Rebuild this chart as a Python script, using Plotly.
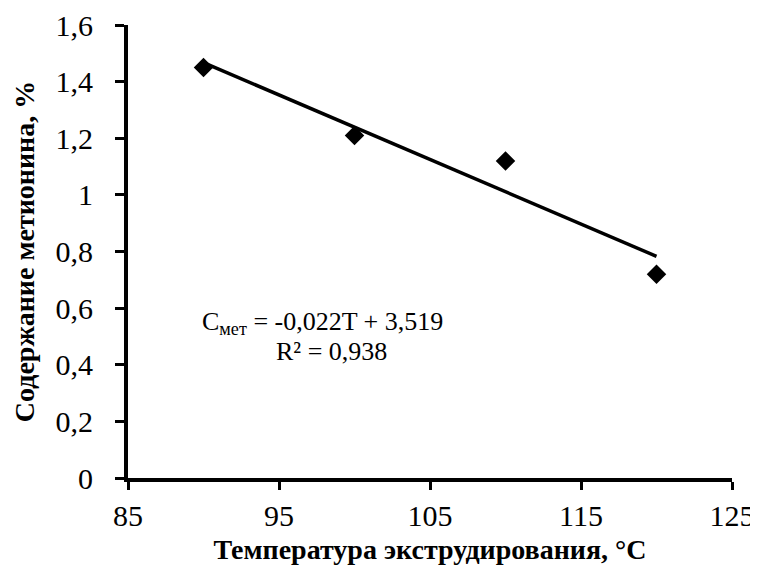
import numpy as np
import plotly.graph_objects as go

temperature = [90, 100, 110, 120]
methionine = [1.45, 1.21, 1.12, 0.72]
x_ticks = [85, 95, 105, 115, 125]
y_ticks = [0, 0.2, 0.4, 0.6, 0.8, 1.0, 1.2, 1.4, 1.6]
y_tick_text = ["0", "0,2", "0,4", "0,6", "0,8", "1", "1,2", "1,4", "1,6"]

slope, intercept = np.polyfit(temperature, methionine, 1)
trend_x = [temperature[0], temperature[-1]]
trend_y = [slope * t + intercept for t in trend_x]

font_family = "Liberation Serif"

fig = go.Figure()
fig.add_trace(go.Scatter(x=trend_x, y=trend_y, mode="lines",
                         line=dict(color="black", width=3.5), showlegend=False))
fig.add_trace(go.Scatter(x=temperature, y=methionine, mode="markers",
                         marker=dict(symbol="diamond", size=15, color="black"),
                         showlegend=False))

fig.add_annotation(x=97.85, y=0.548, xref="x", yref="y", showarrow=False,
                   text="C<sub>мет</sub> = -0,022T + 3,519",
                   font=dict(family=font_family, size=26, color="black"))
fig.add_annotation(x=98.5, y=0.448, xref="x", yref="y", showarrow=False,
                   text="R² = 0,938",
                   font=dict(family=font_family, size=26, color="black"))

fig.update_layout(
    width=750, height=557,
    margin=dict(l=120, r=26, t=17, b=87),
    paper_bgcolor="white", plot_bgcolor="white",
    font=dict(family=font_family, size=30, color="black"),
    xaxis=dict(range=[85, 125], tickvals=x_ticks, ticks="outside", ticklen=8,
               tickwidth=3, tickcolor="black", showline=True, linecolor="black",
               linewidth=4, showgrid=False, zeroline=False, automargin=False,
               ticklabelstandoff=0, ticklabeloverflow="allow",
               tickfont=dict(family=font_family, size=30),
               title=dict(text="<b>Температура экструдирования, °C</b>",
                          font=dict(family=font_family, size=28), standoff=14)),
    yaxis=dict(range=[0, 1.6], tickvals=y_ticks, ticktext=y_tick_text,
               ticks="outside", ticklen=9, tickwidth=3, tickcolor="black",
               showline=True, linecolor="black", linewidth=4, showgrid=False,
               zeroline=False, automargin=False, ticklabelstandoff=16,
               ticklabeloverflow="allow",
               tickfont=dict(family=font_family, size=30),
               title=dict(text="<b>Содержание метионина, %</b>",
                          font=dict(family=font_family, size=28), standoff=14)),
)

fig.write_html("out.html")
